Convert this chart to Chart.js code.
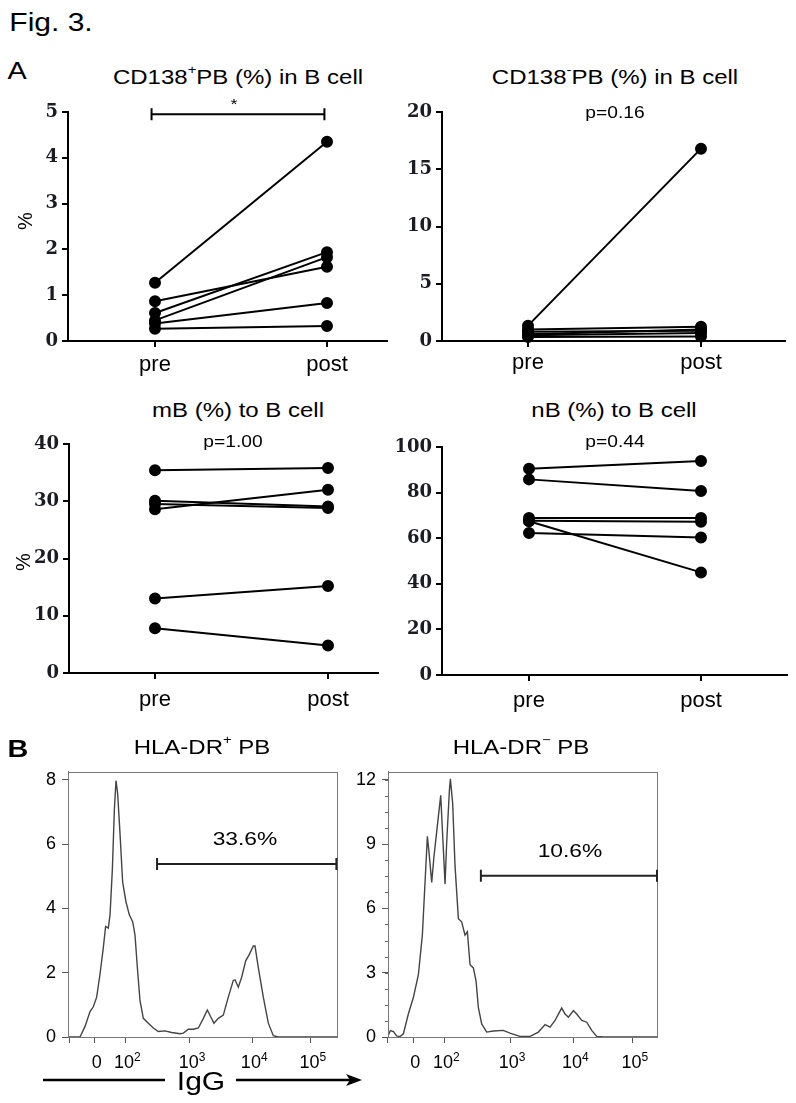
<!DOCTYPE html>
<html>
<head>
<meta charset="utf-8">
<script src="https://cdn.jsdelivr.net/npm/chart.js@4.4.1/dist/chart.umd.min.js"></script>
<style>
  body { margin: 0; background: #fff; width: 796px; height: 1103px; position: relative; overflow: hidden;
         font-family: Arial, "Liberation Sans", sans-serif; color: #000; }
  .t { position: absolute; white-space: nowrap; line-height: 1; z-index: 2;
       transform: translate(-50%, -50%) scaleX(1.2); }
  .t sup { font-size: 0.62em; line-height: 0; position: relative; top: -0.15em; }
  .rot { transform: translate(-50%, -50%) rotate(-90deg); }
  canvas { position: absolute; z-index: 1; }
</style>
</head>
<body>
<div class="t" style="left:51px;top:22px;font-size:25px">Fig. 3.</div>
<div class="t" style="left:17px;top:71px;font-size:24px">A</div>
<div class="t" style="left:238px;top:77px;font-size:20px">CD138<sup>+</sup>PB (%) in B cell</div>
<div class="t" style="left:234px;top:103px;font-size:15px">*</div>
<div class="t" style="left:615px;top:77px;font-size:20px">CD138<sup>-</sup>PB (%) in B cell</div>
<div class="t" style="left:615px;top:113px;font-size:16px">p=0.16</div>
<div class="t" style="left:238px;top:410px;font-size:20px">mB (%) to B cell</div>
<div class="t" style="left:233px;top:442px;font-size:16px">p=1.00</div>
<div class="t" style="left:614px;top:410px;font-size:20px">nB (%) to B cell</div>
<div class="t" style="left:615px;top:442px;font-size:16px">p=0.44</div>
<div class="t rot" style="left:25px;top:221px;font-size:20px">%</div>
<div class="t rot" style="left:23px;top:562px;font-size:20px">%</div>
<div class="t" style="left:18px;top:749px;font-size:24px;font-weight:bold">B</div>
<div class="t" style="left:202px;top:747px;font-size:20px">HLA-DR<sup>+</sup> PB</div>
<div class="t" style="left:521px;top:747px;font-size:20px">HLA-DR<sup>&minus;</sup> PB</div>
<div class="t" style="left:245px;top:838px;font-size:19px">33.6%</div>
<div class="t" style="left:570px;top:850px;font-size:19px">10.6%</div>
<div class="t" style="left:201px;top:1081px;font-size:25px">IgG</div>
<svg style="position:absolute;left:0;top:1070px;z-index:2" width="400" height="24">
  <line x1="43" y1="10" x2="165" y2="10" stroke="#000" stroke-width="2.5"/>
  <line x1="236" y1="10" x2="352" y2="10" stroke="#000" stroke-width="2.5"/>
  <polygon points="346,4 362,10 346,16 350,10" fill="#000"/>
</svg>

<script>
// panel A: paired values, same subject order in pre and post
const prePost = ['pre', 'post'];

const cd138PosPre  = [1.27, 0.87, 0.61, 0.45, 0.38, 0.27];
const cd138PosPost = [4.35, 1.62, 1.94, 1.83, 0.83, 0.33];

const cd138NegPre  = [1.34, 1.0, 0.8, 0.6, 0.5, 0.35];
const cd138NegPost = [16.8, 1.25, 0.9, 1.0, 0.7, 0.4];

const mbPre  = [35.4, 30.1, 29.5, 28.6, 13.0, 7.8];
const mbPost = [35.8, 29.1, 28.8, 32.0, 15.2, 4.8];

const nbPre  = [90.5, 85.8, 68.9, 67.4, 67.6, 62.3];
const nbPost = [93.9, 80.7, 68.9, 45.0, 67.2, 60.3];

// panel B: IgG histograms, x in decades of the biexponential display
const flowTicks = [1.03, 1.44, 1.94, 3, 4.02, 4.98];
const flowTickBase = ['', '0', '10', '10', '10', '10'];
const flowTickExp = ['', '', '2', '3', '4', '5'];

const drPosX = [1.0, 1.197, 1.279, 1.361, 1.415, 1.470, 1.525, 1.579, 1.617, 1.661, 1.689, 1.727, 1.760,
  1.787, 1.814, 1.852, 1.896, 1.951, 2.005, 2.060, 2.098, 2.137, 2.180, 2.235, 2.317, 2.399, 2.481,
  2.590, 2.699, 2.836, 2.891, 2.973, 3.055, 3.137, 3.219, 3.284, 3.339, 3.393, 3.464, 3.546, 3.628,
  3.710, 3.738, 3.792, 3.847, 3.913, 3.973, 4.038, 4.066, 4.120, 4.202, 4.284, 4.366, 4.448, 5.41];
const drPosY = [0, 0, 0.33, 0.79, 0.94, 1.24, 1.96, 2.78, 3.44, 3.39, 3.8, 5.2, 7.06,
  7.98, 7.57, 6.35, 4.82, 4.2, 3.8, 3.59, 3.18, 2.16, 1.14, 0.58, 0.43, 0.28, 0.17,
  0.19, 0.14, 0.10, 0.12, 0.24, 0.24, 0.28, 0.58, 0.84, 0.63, 0.43, 0.58, 0.68, 1.24,
  1.76, 1.78, 1.55, 1.86, 2.37, 2.57, 2.83, 2.83, 2.16, 1.24, 0.43, 0.04, 0, 0];

const drNegX = [1.032, 1.07, 1.12, 1.17, 1.226, 1.280, 1.360, 1.441, 1.522, 1.586, 1.629, 1.667, 1.699,
  1.737, 1.774, 1.844, 1.882, 1.925, 1.952, 1.978, 2.022, 2.038, 2.075, 2.113, 2.167, 2.220, 2.274,
  2.312, 2.355, 2.409, 2.452, 2.489, 2.543, 2.624, 2.731, 2.892, 3.000, 3.161, 3.323, 3.457, 3.565,
  3.645, 3.726, 3.780, 3.833, 3.887, 3.941, 4.022, 4.075, 4.156, 4.237, 4.317, 4.398, 4.505, 5.37];
const drNegY = [0.05, 0.3, 0.25, 0.05, 0.02, 0.15, 1.07, 1.84, 2.91, 4.75, 7.21, 9.36, 8.44,
  7.21, 8.44, 10.28, 11.27, 8.74, 7.13, 9.05, 11.5, 12.04, 10.89, 7.98, 5.52, 5.37, 4.75,
  4.91, 3.37, 3.22, 2.61, 1.38, 0.61, 0.23, 0.28, 0.31, 0.18, 0.03, 0.03, 0.23, 0.58,
  0.46, 0.77, 1.07, 1.35, 1.07, 0.92, 1.23, 1.07, 0.77, 0.69, 0.31, 0.03, 0, 0];

// gates: [from, to, height]
const drPosGate = [2.46, 5.40, 5.38];
const drNegGate = [2.53, 5.37, 7.52];

Chart.defaults.font.family = 'Arial, "Liberation Sans", sans-serif';

const extras = {
  id: 'extras',
  afterDatasetsDraw(chart, args, opts) {
    const ctx = chart.ctx;
    const xs = chart.scales.x, ys = chart.scales.y;
    const a = chart.chartArea;
    ctx.save();
    if (opts.frame) {
      ctx.strokeStyle = '#777';
      ctx.lineWidth = 1;
      ctx.strokeRect(Math.round(a.left) + 0.5, Math.round(a.top) + 0.5,
        Math.round(a.right - a.left), Math.round(a.bottom - a.top));
    }
    if (opts.minorStep) {
      ctx.strokeStyle = '#666';
      ctx.lineWidth = 1;
      ctx.beginPath();
      for (let v = opts.minorStep; v < ys.max; v += opts.minorStep) {
        const py = Math.round(ys.getPixelForValue(v)) + 0.5;
        ctx.moveTo(a.left - 3, py);
        ctx.lineTo(a.left, py);
      }
      ctx.stroke();
    }
    const bar = opts.gate || opts.sig;
    if (bar) {
      const x0 = xs.getPixelForValue(bar[0]);
      const x1 = xs.getPixelForValue(bar[1]);
      const y = ys.getPixelForValue(bar[2]);
      ctx.strokeStyle = opts.gate ? '#222' : '#000';
      ctx.lineWidth = 2;
      ctx.beginPath();
      ctx.moveTo(x0, y); ctx.lineTo(x1, y);
      ctx.moveTo(x0, y - 6); ctx.lineTo(x0, y + 6);
      ctx.moveTo(x1, y - 6); ctx.lineTo(x1, y + 6);
      ctx.stroke();
    }
    // "10" with a raised exponent under each flow tick
    if (opts.powerLabels) {
      ctx.fillStyle = '#000';
      ctx.textBaseline = 'alphabetic';
      const base = a.bottom + 31;
      flowTicks.forEach((v, i) => {
        const px = xs.getPixelForValue(v);
        ctx.font = '18px Arial, "Liberation Sans", sans-serif';
        const w1 = ctx.measureText(flowTickBase[i]).width;
        ctx.font = '12px Arial, "Liberation Sans", sans-serif';
        const w2 = flowTickExp[i] ? ctx.measureText(flowTickExp[i]).width : 0;
        const x0 = px - (w1 + w2) / 2 + 2;
        ctx.font = '18px Arial, "Liberation Sans", sans-serif';
        ctx.textAlign = 'left';
        ctx.fillText(flowTickBase[i], x0, base);
        if (w2) {
          ctx.font = '12px Arial, "Liberation Sans", sans-serif';
          ctx.fillText(flowTickExp[i], x0 + w1, base - 7);
        }
      });
    }
    ctx.restore();
  }
};

function placeCanvas(id, box) {
  const c = document.createElement('canvas');
  c.id = id;
  c.width = box.w;
  c.height = box.h;
  c.style.left = box.x + 'px';
  c.style.top = box.y + 'px';
  document.body.appendChild(c);
  return c;
}

function pairedChart(id, box, area, pre, post, yMax, yStep, labelPad, sig) {
  const cv = placeCanvas(id, box);
  const unit = area.post - area.pre;
  const datasets = pre.map((v, i) => ({
    data: [{ x: 0, y: v }, { x: 1, y: post[i] }],
    showLine: true,
    borderColor: '#000',
    backgroundColor: '#000',
    borderWidth: 2,
    pointRadius: 5,
    pointHoverRadius: 5,
    clip: false
  }));
  return new Chart(cv, {
    type: 'scatter',
    data: { datasets },
    options: {
      responsive: false,
      animation: false,
      layout: { padding: { top: area.top - box.y, right: box.x + box.w - area.right, left: 0, bottom: 0 } },
      plugins: { legend: { display: false }, tooltip: { enabled: false }, extras: { sig } },
      scales: {
        x: {
          type: 'linear',
          min: -(area.pre - area.left) / unit,
          max: 1 + (area.right - area.post) / unit,
          afterBuildTicks: s => { s.ticks = [{ value: 0 }, { value: 1 }]; },
          afterFit: s => { s.height = box.y + box.h - area.bottom; },
          ticks: { callback: v => prePost[v], color: '#000', padding: labelPad,
                   font: { size: 22 } },
          grid: { drawOnChartArea: false, color: '#000', lineWidth: 2, tickLength: 6 },
          border: { color: '#000', width: 2 }
        },
        y: {
          min: 0,
          max: yMax,
          afterFit: s => { s.width = area.left - box.x; },
          ticks: { stepSize: yStep, color: '#1b1b24', padding: 4,
                   font: { family: '"DejaVu Serif", serif', weight: 'bold', size: 18 } },
          grid: { drawOnChartArea: false, color: '#000', lineWidth: 2, tickLength: 6 },
          border: { color: '#000', width: 2 }
        }
      }
    },
    plugins: [extras]
  });
}

function flowChart(id, box, area, xs, ys, xMin, xMax, yMax, yStep, minorStep, gate) {
  const cv = placeCanvas(id, box);
  return new Chart(cv, {
    type: 'scatter',
    data: {
      datasets: [{
        data: xs.map((x, i) => ({ x, y: ys[i] })),
        showLine: true,
        borderColor: '#444',
        borderWidth: 1.4,
        pointRadius: 0,
        tension: 0
      }]
    },
    options: {
      responsive: false,
      animation: false,
      layout: { padding: { top: area.top - box.y, right: box.x + box.w - area.right, left: 0, bottom: 0 } },
      plugins: { legend: { display: false }, tooltip: { enabled: false },
                 extras: { frame: true, minorStep, gate, powerLabels: true } },
      scales: {
        x: {
          type: 'linear',
          min: xMin,
          max: xMax,
          afterBuildTicks: s => { s.ticks = flowTicks.map(v => ({ value: v })); },
          afterFit: s => { s.height = box.y + box.h - area.bottom; },
          ticks: { display: false },
          grid: { drawOnChartArea: false, color: '#555', lineWidth: 1, tickLength: 6 },
          border: { color: '#777', width: 1 }
        },
        y: {
          min: 0,
          max: yMax,
          afterFit: s => { s.width = area.left - box.x; },
          ticks: { stepSize: yStep, includeBounds: false, color: '#000', padding: 6,
                   font: { size: 18 } },
          grid: { drawOnChartArea: false, color: '#555', lineWidth: 1, tickLength: 6 },
          border: { color: '#777', width: 1 }
        }
      }
    },
    plugins: [extras]
  });
}

pairedChart('cd138pos', { x: 0, y: 95, w: 395, h: 285 },
  { left: 68, top: 112, right: 387, bottom: 341, pre: 155, post: 327 },
  cd138PosPre, cd138PosPost, 5, 1, 5, [-0.02, 0.985, 4.95]);

pairedChart('cd138neg', { x: 395, y: 95, w: 400, h: 285 },
  { left: 442, top: 112, right: 785, bottom: 341, pre: 528, post: 701 },
  cd138NegPre, cd138NegPost, 20, 5, 3, null);

pairedChart('mb', { x: 0, y: 425, w: 395, h: 290 },
  { left: 69, top: 444, right: 378, bottom: 673, pre: 155, post: 328 },
  mbPre, mbPost, 40, 10, 8, null);

pairedChart('nb', { x: 395, y: 425, w: 400, h: 290 },
  { left: 442, top: 447, right: 787, bottom: 675, pre: 529, post: 701 },
  nbPre, nbPost, 100, 20, 7, null);

flowChart('drpos', { x: 0, y: 755, w: 345, h: 320 },
  { left: 68, top: 768, right: 337, bottom: 1037 },
  drPosX, drPosY, 1.0, 5.41, 8.25, 2, 0, drPosGate);

flowChart('drneg', { x: 345, y: 755, w: 320, h: 320 },
  { left: 388, top: 768, right: 657, bottom: 1037 },
  drNegX, drNegY, 1.032, 5.37, 12.37, 3, 0.75, drNegGate);
</script>
</body>
</html>
